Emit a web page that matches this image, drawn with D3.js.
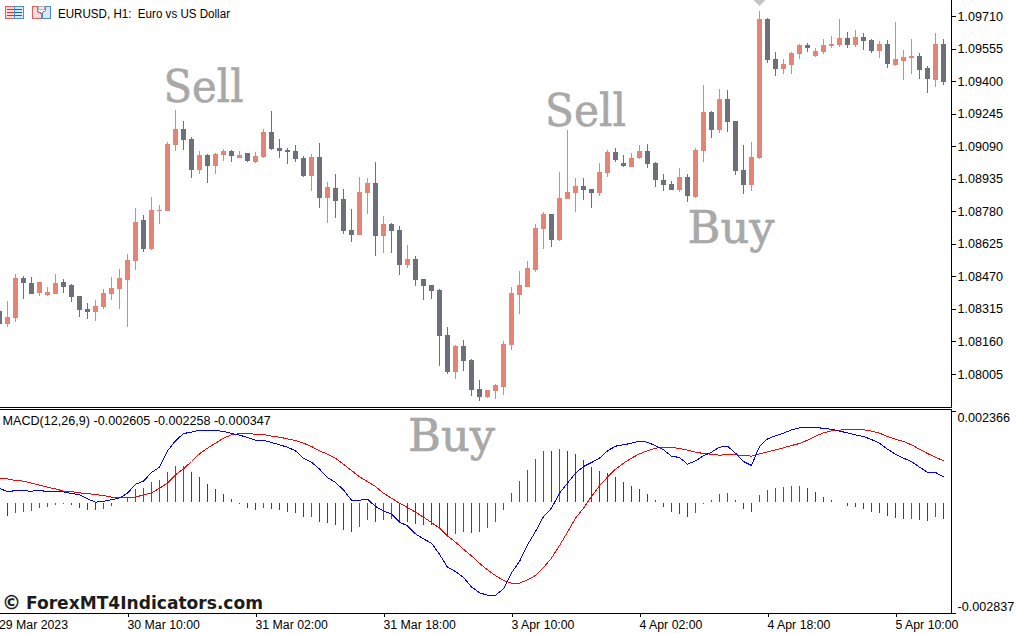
<!DOCTYPE html>
<html><head><meta charset="utf-8">
<script src="https://cdnjs.cloudflare.com/ajax/libs/d3/7.8.5/d3.min.js"></script>
<style>
html,body{margin:0;padding:0;background:#fff;overflow:hidden}
svg{display:block}
text{font-family:"Liberation Sans",sans-serif}
.axis text{font-size:12.6px;fill:#000}
</style></head><body>
<div id="chart"></div>
<script>
// Prices in 1e-5 units (1.09710 = 109710)
const open5 = [
108305,108243,108272,108462,108438,108391,108381,108386,108443,108429,
108376,108315,108300,108324,108386,108410,108453,108543,108738,108600,
108781,108781,109096,109172,109124,108976,109048,108995,109048,109067,
109034,109057,109015,109038,109157,109081,109072,109067,109034,108948,
109038,108843,108891,108838,108691,108667,108867,108915,108662,108719,
108691,108524,108553,108457,108429,108405,108191,108015,108138,108072,
107934,107895,107924,107943,108143,108381,108419,108500,108695,108767,
108643,108838,108867,108900,108886,108867,108962,109062,109010,108991,
109034,109067,109010,108929,108910,108881,108943,108848,109067,109253,
109167,109315,109210,108976,108905,109034,109696,109505,109457,109476,
109529,109572,109519,109538,109567,109572,109605,109572,109610,109596,
109543,109576,109476,109496,109510,109519,109462,109405,109576];
const close5 = [
108243,108276,108462,108438,108386,108443,108395,108438,108419,108372,
108310,108300,108329,108391,108414,108462,108548,108729,108600,108786,
108786,109100,109172,109119,108976,109048,108995,109053,109067,109043,
109048,109019,109043,109157,109077,109067,109062,109029,108948,109038,
108843,108896,108829,108686,108667,108872,108915,108662,108719,108686,
108524,108553,108453,108424,108400,108186,108015,108138,108067,107929,
107895,107929,107953,108148,108391,108429,108510,108700,108767,108643,
108843,108872,108900,108881,108867,108967,109062,109024,108995,109034,
109067,109005,108929,108905,108881,108943,108853,109072,109253,109167,
109315,109205,108972,108905,109038,109696,109500,109457,109481,109534,
109572,109557,109543,109572,109576,109605,109572,109610,109591,109543,
109576,109481,109505,109515,109519,109453,109410,109576,109395];
const high5 = [
108305,108353,108481,108472,108467,108443,108419,108481,108457,108434,
108376,108343,108357,108410,108467,108505,108576,108795,108762,108848,
108810,109110,109262,109210,109134,109067,109053,109057,109077,109072,
109067,109057,109062,109172,109257,109124,109081,109096,109043,109053,
109105,108919,108957,108886,108791,108943,108938,109015,108757,108724,
108710,108619,108567,108457,108429,108410,108229,108143,108167,108076,
107976,107929,107957,108162,108419,108496,108543,108719,108776,108767,
108967,109167,108938,108938,108886,109010,109072,109081,109048,109057,
109096,109100,109015,108957,108924,108986,108957,109081,109381,109257,
109362,109357,109210,109096,109110,109734,109700,109538,109505,109538,
109576,109581,109557,109600,109615,109696,109634,109643,109629,109600,
109591,109596,109681,109548,109600,109534,109472,109629,109600];
const low5 = [
108243,108229,108253,108362,108386,108376,108376,108386,108391,108348,
108276,108267,108257,108315,108357,108315,108229,108500,108586,108596,
108719,108781,109067,109072,108938,108957,108915,108957,109019,109015,
109034,109015,109010,109034,109072,109034,109005,109015,108943,108876,
108795,108724,108748,108672,108634,108667,108767,108567,108581,108581,
108476,108510,108424,108357,108362,108043,108005,107981,108019,107900,
107876,107891,107886,107905,108119,108291,108419,108491,108600,108610,
108638,108838,108776,108834,108795,108853,108943,109015,108991,108991,
109029,108986,108896,108876,108881,108872,108824,108843,109015,109129,
109153,109157,108953,108862,108876,109029,109486,109424,109434,109434,
109505,109538,109515,109529,109557,109562,109557,109562,109548,109534,
109510,109462,109472,109405,109434,109410,109343,109372,109381];

// MACD panel values in 1e-6 units
const histogram = [
0,-348,-270,-245,-219,-142,-116,-64,-39,-64,
-142,-193,-193,-167,-90,0,116,348,374,528,
580,786,940,940,786,657,477,348,219,90,
-26,-142,-193,-142,-167,-193,-245,-270,-374,-374,
-502,-528,-580,-708,-760,-631,-451,-502,-451,-425,
-528,-502,-554,-580,-580,-657,-837,-811,-760,-786,
-760,-657,-502,-193,245,554,837,1121,1327,1327,
1378,1327,1249,1095,914,811,760,657,528,425,
348,219,64,-116,-245,-296,-374,-270,-26,64,
219,245,64,-167,-245,193,322,374,399,425,
425,374,270,142,64,0,-90,-116,-167,-245,
-270,-348,-399,-425,-425,-451,-477,-374,-425];
const histTone = "rrgggggggrrrrgggggggggggrrrrrrrrrgrrrrrgrrrrrggrggrrrrrrrggrgggggggggrgrrrrrrrrrrrrrrrrgggggrrrggggggrrrrrrrrrrrrrgrrgr".split("");
const macdLine = [
365,271,305,297,288,314,271,279,271,228,
194,90,5,30,65,116,236,468,546,769,
906,1327,1585,1773,1808,1859,1842,1842,1834,1773,
1731,1671,1602,1602,1542,1482,1421,1327,1138,1035,
855,640,511,322,56,56,82,-107,-219,-305,
-511,-605,-811,-940,-1052,-1335,-1670,-1782,-1936,-2177,
-2331,-2391,-2391,-2228,-1816,-1524,-1095,-751,-365,-150,
236,494,752,923,1026,1138,1327,1447,1482,1524,
1576,1550,1456,1353,1190,1155,984,1069,1198,1293,
1421,1447,1267,1052,949,1439,1636,1713,1782,1868,
1920,1937,1937,1902,1885,1834,1791,1739,1696,1619,
1524,1370,1241,1138,1052,906,777,769,657];
const signalLine = [
614,606,563,546,494,443,391,348,288,279,
245,228,202,176,133,133,133,133,194,245,
365,494,709,863,1052,1250,1396,1524,1653,1739,
1773,1773,1756,1748,1705,1679,1636,1593,1524,1439,
1327,1241,1138,984,820,657,537,408,236,108,
-21,-133,-253,-382,-519,-665,-863,-1026,-1206,-1378,
-1567,-1739,-1885,-2013,-2082,-2082,-1996,-1885,-1678,-1438,
-1112,-768,-408,-150,151,425,649,855,1009,1138,
1250,1327,1396,1421,1421,1387,1344,1293,1258,1241,
1215,1233,1224,1207,1190,1250,1301,1353,1404,1464,
1516,1602,1705,1791,1842,1859,1885,1885,1868,1834,
1782,1696,1628,1567,1482,1370,1258,1164,1069];

const priceTicks = [1.09710,1.09555,1.09400,1.09245,1.09090,1.08935,1.08780,1.08625,1.08470,1.08315,1.08160,1.08005];
const macdTicks = [0.002366,-0.002837];
const timeTickIndex = [16,32,48,64,80,96,112];
const timeLabels = ["30 Mar 10:00","31 Mar 02:00","31 Mar 18:00","3 Apr 10:00","4 Apr 02:00","4 Apr 18:00","5 Apr 10:00"];
const firstTimeLabel = "29 Mar 2023";
const annotations = [
 {t:"Sell",i:20.5,p:1.09300,w:80},
 {t:"Sell",i:68.2,p:1.09186,w:81},
 {t:"Buy",i:86,p:1.08629,w:87}];
const title = "EURUSD, H1:  Euro vs US Dollar";
const macdTitle = "MACD(12,26,9) -0.002605 -0.002258 -0.000347";
const watermark = "ForexMT4Indicators.com";

const W=1016,H=633, axisX=951.5;
const bull="#e58475", bear="#6d7079", histRed="#dd0000", histGreen="#2b7a0b";
const idx=d3.range(open5.length);
const x=d3.scaleLinear().domain([0,118]).range([-0.5,943.5]);
const y=d3.scaleLinear().domain([1.09710,1.08005]).range([16,374]);
const ym=d3.scaleLinear().domain([2366,-2837]).range([410.5,612.5]);

const svg=d3.select("#chart").append("svg").attr("width",W).attr("height",H);

// faded text annotations sit behind candles
const annColor="#a8a8a8";
const annStyle=s=>s.style("font-family","'DejaVu Serif',serif").style("font-size","45px")
 .attr("fill",annColor).attr("stroke",annColor).attr("stroke-width",0.6).attr("lengthAdjust","spacingAndGlyphs");
const annG=svg.append("g");
annG.selectAll("text").data(annotations).join("text")
 .attr("x",d=>x(d.i)).attr("y",d=>y(d.p))
 .attr("textLength",d=>d.w).call(annStyle).text(d=>d.t);
annG.append("text").attr("x",408).attr("y",ym(1320)).attr("textLength",87).call(annStyle).text("Buy");

// candles
const cG=svg.append("g").attr("shape-rendering","crispEdges");
const p=v=>y(v/1e5);
cG.selectAll("rect.w").data(idx).join("rect").attr("class","w")
 .attr("x",i=>x(i)-0.5).attr("width",1)
 .attr("y",i=>p(high5[i])).attr("height",i=>Math.max(1,p(low5[i])-p(high5[i])))
 .attr("fill",i=>close5[i]>=open5[i]?bull:bear);
cG.selectAll("rect.b").data(idx).join("rect").attr("class","b")
 .attr("x",i=>x(i)-2.5).attr("width",5)
 .attr("y",i=>p(Math.max(open5[i],close5[i])))
 .attr("height",i=>Math.max(1,Math.abs(p(open5[i])-p(close5[i]))))
 .attr("fill",i=>close5[i]>=open5[i]?bull:bear);

// arrow mark above the highest candle
svg.append("path").attr("d",d3.line()([[x(95)-6,0],[x(95)+6,0],[x(95),6]])+"Z").attr("fill","#c4c4c4");

// MACD histogram
const hG=svg.append("g").attr("shape-rendering","crispEdges");
hG.selectAll("rect").data(idx.filter(i=>histogram[i]!==0)).join("rect")
 .attr("x",i=>x(i)-0.5).attr("width",1)
 .attr("y",i=>histogram[i]>0?ym(histogram[i]):ym(0)+0.5)
 .attr("height",i=>Math.max(1,Math.abs(ym(histogram[i])-ym(0))))
 .attr("fill",i=>histTone[i]==="g"?histGreen:histRed);

// MACD lines
const ln=d3.line().x((d,i)=>x(i)).y(d=>ym(d));
svg.append("path").attr("d",ln(signalLine)).attr("fill","none").attr("stroke","#ff0000").attr("stroke-width",1).attr("shape-rendering","crispEdges");
svg.append("path").attr("d",ln(macdLine)).attr("fill","none").attr("stroke","#0000ff").attr("stroke-width",1).attr("shape-rendering","crispEdges");

// frame lines
const fr=svg.append("g").attr("stroke","#000").attr("shape-rendering","crispEdges");
fr.append("line").attr("x1",0).attr("x2",axisX).attr("y1",407.5).attr("y2",407.5);
fr.append("line").attr("x1",0).attr("x2",axisX).attr("y1",409.5).attr("y2",409.5);

// price axis
const ax=d3.axisRight(y).tickValues(priceTicks).tickFormat(d3.format(".5f")).tickSize(4).tickPadding(2);
const gA=svg.append("g").attr("class","axis").attr("transform",`translate(${axisX},0)`).attr("shape-rendering","crispEdges").call(ax);
gA.select(".domain").attr("d","M0,0V408");

// MACD axis
const axm=d3.axisRight(ym).tickValues(macdTicks.map(v=>v*1e6)).tickFormat(v=>d3.format(".6f")(v/1e6).replace("−","-")).tickSize(4).tickPadding(2);
const gM=svg.append("g").attr("class","axis").attr("transform",`translate(${axisX},0)`).attr("shape-rendering","crispEdges").call(axm);
gM.select(".domain").attr("d","M0,409V613");
gM.selectAll(".tick text").attr("dy",(v)=>v>0?"10.5px":"-2px");

// time axis
const tScale=d3.scaleLinear().domain([0,118]).range([-0.5,943.5]);
const axt=d3.axisBottom(tScale).tickValues(timeTickIndex).tickFormat((d,i)=>timeLabels[i]).tickSize(4).tickPadding(3);
const gT=svg.append("g").attr("class","axis").attr("transform","translate(0,613)").attr("shape-rendering","crispEdges").call(axt);
gT.select(".domain").attr("d",`M0,0H${axisX}`);
gT.selectAll(".tick text").attr("text-anchor","start").attr("dx","-0.5px").style("font-size","12.3px");
svg.append("text").attr("x",-1).attr("y",629).style("font-size","12.3px").text(firstTimeLabel);

// labels
svg.append("text").attr("x",58).attr("y",18).style("font-size","12px").attr("fill","#000").style("white-space","pre")
 .attr("textLength",172).attr("lengthAdjust","spacingAndGlyphs").text(title);
svg.append("text").attr("x",2.5).attr("y",425).style("font-size","12.6px").attr("fill","#000").text(macdTitle);

// watermark
const wm=svg.append("g").attr("fill","#1c1c1c").style("font-family","'DejaVu Sans',sans-serif").style("font-weight","bold");
wm.append("text").attr("x",2).attr("y",609).style("font-size","19px").style("font-family","'DejaVu Sans',sans-serif").text("©");
wm.append("text").attr("x",26).attr("y",609).attr("textLength",237).attr("lengthAdjust","spacingAndGlyphs").style("font-size","18.5px").style("font-family","'DejaVu Sans',sans-serif").text(watermark);

// toolbar icons
const ic=svg.append("g").attr("shape-rendering","crispEdges").attr("fill","none");
ic.append("rect").attr("x",5.5).attr("y",6.5).attr("width",9).attr("height",12).attr("stroke","#e06060").attr("fill","#fbdcd8");
ic.append("rect").attr("x",14.5).attr("y",6.5).attr("width",9).attr("height",12).attr("stroke","#4a90d0").attr("fill","#d8e8f8");
[9,12,15].forEach(v=>{
 ic.append("line").attr("x1",7).attr("x2",14).attr("y1",v+.5).attr("y2",v+.5).attr("stroke","#d03030");
 ic.append("line").attr("x1",15).attr("x2",22).attr("y1",v+.5).attr("y2",v+.5).attr("stroke","#2060a0");
});
ic.append("path").attr("d","M32.5,18.5V6.5H37.5V11.5L41.5,13.5V18.5Z").attr("stroke","#e06060").attr("fill","#fbdcd8");
ic.append("path").attr("d","M42.5,18.5V12.5L45.5,10.5V6.5H50.5V18.5Z").attr("stroke","#4a90d0").attr("fill","#d8e8f8");
ic.append("rect").attr("x",38.5).attr("y",6.5).attr("width",6).attr("height",3).attr("stroke","#b0b0b0").attr("fill","#f0f0f0");
</script></body></html>
